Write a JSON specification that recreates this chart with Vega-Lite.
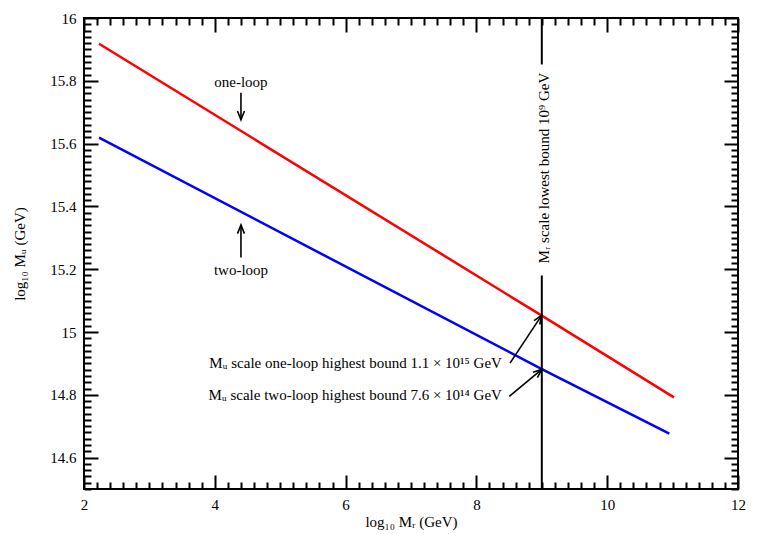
{
  "$schema": "https://vega.github.io/schema/vega-lite/v6.json",
  "width": 654,
  "height": 471,
  "autosize": {"type": "none"},
  "padding": {"left": 84, "top": 18, "right": 25, "bottom": 45},
  "background": "white",
  "config": {
    "view": {"stroke": "black", "strokeWidth": 2},
    "axis": {
      "domain": false, "grid": false,
      "labelFont": "Liberation Serif", "labelFontSize": 15, "labelColor": "black",
      "tickColor": "black", "tickOpacity": 1, "tickWidth": 2,
      "titleFont": "Liberation Serif", "titleFontSize": 15, "titleColor": "black", "titleFontWeight": "normal"
    },
    "axisX": {"tickColor": "black", "tickOpacity": 1, "labelFont": "Liberation Serif", "titleFont": "Liberation Serif", "domain": false, "grid": false},
    "axisY": {"tickColor": "black", "tickOpacity": 1, "labelFont": "Liberation Serif", "titleFont": "Liberation Serif", "domain": false, "grid": false},
    "text": {"font": "Liberation Serif", "fontSize": 15, "color": "black"}
  },
  "datasets": {
    "curves": [
      {"loop": "one-loop", "x": 2.23, "y": 15.918},
      {"loop": "one-loop", "x": 9.0, "y": 15.052},
      {"loop": "one-loop", "x": 11.02, "y": 14.792},
      {"loop": "two-loop", "x": 2.23, "y": 15.619},
      {"loop": "two-loop", "x": 9.0, "y": 14.882},
      {"loop": "two-loop", "x": 10.95, "y": 14.676}
    ],
    "vline": [
      {"x": 9, "y": 16, "y2": 15.852},
      {"x": 9, "y": 15.18, "y2": 14.5}
    ],
    "arrows": [
      {"id": "a1", "x": 4.4, "y": 15.762, "x2": 4.4, "y2": 15.676},
      {"id": "a2", "x": 4.4, "y": 15.237, "x2": 4.4, "y2": 15.341},
      {"id": "a3", "x": 8.514, "y": 14.901, "x2": 8.998, "y2": 15.053},
      {"id": "a4", "x": 8.503, "y": 14.795, "x2": 9.0, "y2": 14.881}
    ],
    "loopLabels": [
      {"label": "one-loop", "x": 4.4, "y": 15.796},
      {"label": "two-loop", "x": 4.4, "y": 15.198}
    ],
    "boundLabels": [
      {"label": "Mᵤ scale one-loop highest bound 1.1 × 10¹⁵ GeV", "x": 8.39, "y": 14.9},
      {"label": "Mᵤ scale two-loop highest bound 7.6 × 10¹⁴ GeV", "x": 8.39, "y": 14.798}
    ],
    "mrLabel": [
      {"label": "Mᵣ scale lowest bound 10⁹ GeV", "x": 9.03, "y": 15.522}
    ]
  },
  "resolve": {"axis": {"x": "independent", "y": "independent"}},
  "layer": [
    {
      "data": {"name": "curves"},
      "mark": {"type": "line", "strokeWidth": 2.5},
      "encoding": {
        "x": {"field": "x", "type": "quantitative", "scale": {"domain": [2, 12], "nice": false, "zero": false},
              "axis": {"orient": "bottom", "values": [2, 4, 6, 8, 10, 12], "format": "~g",
                       "labelFont": "Liberation Serif", "labelFontSize": 15,
                       "ticks": false, "tickSize": 0, "labelPadding": 8,
                       "labelOverlap": false, "labelFlush": false,
                       "title": "log₁₀ Mᵣ (GeV)", "titlePadding": 2}},
        "y": {"field": "y", "type": "quantitative", "scale": {"domain": [14.5, 16], "nice": false, "zero": false},
              "axis": {"orient": "left", "values": [14.6, 14.8, 15, 15.2, 15.4, 15.6, 15.8, 16], "format": "~g",
                       "labelFont": "Liberation Serif", "labelFontSize": 15,
                       "ticks": false, "tickSize": 0, "labelPadding": 8,
                       "labelOverlap": false, "labelFlush": false,
                       "title": "log₁₀ Mᵤ (GeV)", "titlePadding": 22}},
        "color": {"field": "loop", "type": "nominal", "scale": {"domain": ["one-loop", "two-loop"], "range": ["#ff0000", "#0000ff"]}, "legend": null}
      }
    },
    {
      "data": {"name": "vline"},
      "mark": {"type": "rule", "color": "black", "strokeWidth": 2},
      "encoding": {
        "x": {"field": "x", "type": "quantitative", "scale": {"domain": [2, 12], "nice": false, "zero": false}, "axis": null},
        "y": {"field": "y", "type": "quantitative", "scale": {"domain": [14.5, 16], "nice": false, "zero": false}, "axis": null},
        "y2": {"field": "y2"}
      }
    },
    {
      "data": {"name": "arrows"},
      "mark": {"type": "rule", "color": "black", "strokeWidth": 1.6},
      "encoding": {
        "x": {"field": "x", "type": "quantitative", "scale": {"domain": [2, 12], "nice": false, "zero": false},
              "axis": {"orient": "top", "values": [2, 2.2, 2.4, 2.6, 2.8, 3, 3.2, 3.4, 3.6, 3.8, 4, 4.2, 4.4, 4.6, 4.8, 5, 5.2, 5.4, 5.6, 5.8, 6, 6.2, 6.4, 6.6, 6.8, 7, 7.2, 7.4, 7.6, 7.8, 8, 8.2, 8.4, 8.6, 8.8, 9, 9.2, 9.4, 9.6, 9.8, 10, 10.2, 10.4, 10.6, 10.8, 11, 11.2, 11.4, 11.6, 11.8, 12],
                       "labels": false, "ticks": true, "tickColor": "black", "tickOpacity": 1, "tickWidth": 2,
                       "tickSize": -471,
                       "tickDash": {"condition": {"test": "abs(datum.value / 2 - round(datum.value / 2)) < 0.001", "value": [14, 443, 14, 1000]}, "value": [7, 457, 7, 1000]},
                       "title": null}},
        "y": {"field": "y", "type": "quantitative", "scale": {"domain": [14.5, 16], "nice": false, "zero": false},
              "axis": {"orient": "right", "values": [14.5, 14.52, 14.54, 14.56, 14.58, 14.6, 14.62, 14.64, 14.66, 14.68, 14.7, 14.72, 14.74, 14.76, 14.78, 14.8, 14.82, 14.84, 14.86, 14.88, 14.9, 14.92, 14.94, 14.96, 14.98, 15, 15.02, 15.04, 15.06, 15.08, 15.1, 15.12, 15.14, 15.16, 15.18, 15.2, 15.22, 15.24, 15.26, 15.28, 15.3, 15.32, 15.34, 15.36, 15.38, 15.4, 15.42, 15.44, 15.46, 15.48, 15.5, 15.52, 15.54, 15.56, 15.58, 15.6, 15.62, 15.64, 15.66, 15.68, 15.7, 15.72, 15.74, 15.76, 15.78, 15.8, 15.82, 15.84, 15.86, 15.88, 15.9, 15.92, 15.94, 15.96, 15.98, 16],
                       "labels": false, "ticks": true, "tickColor": "black", "tickOpacity": 1, "tickWidth": 2,
                       "tickSize": -654,
                       "tickDash": {"condition": {"test": "abs(datum.value * 5 - round(datum.value * 5)) < 0.001", "value": [14, 626, 14, 1000]}, "value": [7, 640, 7, 1000]},
                       "title": null}},
        "x2": {"field": "x2"},
        "y2": {"field": "y2"}
      }
    },
    {
      "data": {"name": "arrows"},
      "transform": [{"filter": "datum.id === 'a1'"}],
      "mark": {"type": "point", "shape": "M -0.4 1 L 0 0 L 0.4 1", "size": 300, "angle": 180, "filled": false, "color": "black", "strokeWidth": 1.6, "opacity": 1},
      "encoding": {
        "x": {"field": "x2", "type": "quantitative", "scale": {"domain": [2, 12], "nice": false, "zero": false}, "axis": null},
        "y": {"field": "y2", "type": "quantitative", "scale": {"domain": [14.5, 16], "nice": false, "zero": false}, "axis": null}
      }
    },
    {
      "data": {"name": "arrows"},
      "transform": [{"filter": "datum.id === 'a2'"}],
      "mark": {"type": "point", "shape": "M -0.4 1 L 0 0 L 0.4 1", "size": 300, "angle": 0, "filled": false, "color": "black", "strokeWidth": 1.6, "opacity": 1},
      "encoding": {
        "x": {"field": "x2", "type": "quantitative", "scale": {"domain": [2, 12], "nice": false, "zero": false}, "axis": null},
        "y": {"field": "y2", "type": "quantitative", "scale": {"domain": [14.5, 16], "nice": false, "zero": false}, "axis": null}
      }
    },
    {
      "data": {"name": "arrows"},
      "transform": [{"filter": "datum.id === 'a3'"}],
      "mark": {"type": "point", "shape": "M -0.4 1 L 0 0 L 0.4 1", "size": 300, "angle": 33.6, "filled": false, "color": "black", "strokeWidth": 1.6, "opacity": 1},
      "encoding": {
        "x": {"field": "x2", "type": "quantitative", "scale": {"domain": [2, 12], "nice": false, "zero": false}, "axis": null},
        "y": {"field": "y2", "type": "quantitative", "scale": {"domain": [14.5, 16], "nice": false, "zero": false}, "axis": null}
      }
    },
    {
      "data": {"name": "arrows"},
      "transform": [{"filter": "datum.id === 'a4'"}],
      "mark": {"type": "point", "shape": "M -0.4 1 L 0 0 L 0.4 1", "size": 300, "angle": 50.2, "filled": false, "color": "black", "strokeWidth": 1.6, "opacity": 1},
      "encoding": {
        "x": {"field": "x2", "type": "quantitative", "scale": {"domain": [2, 12], "nice": false, "zero": false}, "axis": null},
        "y": {"field": "y2", "type": "quantitative", "scale": {"domain": [14.5, 16], "nice": false, "zero": false}, "axis": null}
      }
    },
    {
      "data": {"name": "loopLabels"},
      "mark": {"type": "text", "align": "center", "baseline": "middle", "fontSize": 15},
      "encoding": {
        "x": {"field": "x", "type": "quantitative", "scale": {"domain": [2, 12], "nice": false, "zero": false}, "axis": null},
        "y": {"field": "y", "type": "quantitative", "scale": {"domain": [14.5, 16], "nice": false, "zero": false}, "axis": null},
        "text": {"field": "label"}
      }
    },
    {
      "data": {"name": "boundLabels"},
      "mark": {"type": "text", "align": "right", "baseline": "middle", "fontSize": 15},
      "encoding": {
        "x": {"field": "x", "type": "quantitative", "scale": {"domain": [2, 12], "nice": false, "zero": false}, "axis": null},
        "y": {"field": "y", "type": "quantitative", "scale": {"domain": [14.5, 16], "nice": false, "zero": false}, "axis": null},
        "text": {"field": "label"}
      }
    },
    {
      "data": {"name": "mrLabel"},
      "mark": {"type": "text", "align": "center", "baseline": "middle", "angle": 270, "fontSize": 15},
      "encoding": {
        "x": {"field": "x", "type": "quantitative", "scale": {"domain": [2, 12], "nice": false, "zero": false}, "axis": null},
        "y": {"field": "y", "type": "quantitative", "scale": {"domain": [14.5, 16], "nice": false, "zero": false}, "axis": null},
        "text": {"field": "label"}
      }
    }
  ]
}
